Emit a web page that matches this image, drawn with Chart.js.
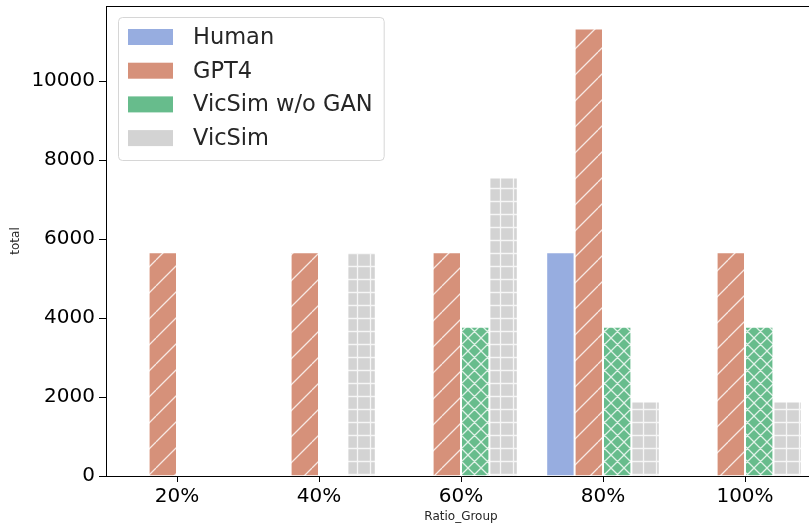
<!DOCTYPE html>
<html>
<head>
<meta charset="utf-8">
<script src="https://cdn.jsdelivr.net/npm/chart.js@4"></script>
<style>
  html, body { margin: 0; padding: 0; background: #fff; overflow: hidden; }
</style>
</head>
<body>
<canvas id="chart" width="816" height="529"></canvas>
<script>
const categories = ['20%', '40%', '60%', '80%', '100%'];
const seriesNames = ['Human', 'GPT4', 'VicSim w/o GAN', 'VicSim'];
const humanValues = [null, null, null, 5670, null];
const gpt4Values = [5670, 5670, 5670, 11340, 5670];
const noGanValues = [null, null, 3780, 3780, 3780];
const vicsimValues = [null, 5670, 7560, 1890, 1890];
const yTicks = [0, 2000, 4000, 6000, 8000, 10000];
const yMax = 11907;

const baseColors = ['#97ade0', '#d6917a', '#67bc8c', '#d3d3d3'];
const hatchKinds = [null, '/', 'x', '+'];
const FONT = "'DejaVu Sans', sans-serif";

function makeHatch(color, kind) {
    if (!kind) return color;
    const size = kind === '/' ? 26 : 13;
    const c = document.createElement('canvas');
    c.width = size; c.height = size;
    const g = c.getContext('2d');
    g.fillStyle = color;
    g.fillRect(0, 0, size, size);
    g.strokeStyle = 'rgba(255,255,255,0.8)';
    g.lineWidth = 1.3;
    g.beginPath();
    if (kind === '/' || kind === 'x') {
        for (let o = -size; o <= size; o += size) {
            g.moveTo(o, size); g.lineTo(o + size, 0);
        }
    }
    if (kind === 'x') {
        for (let o = -size; o <= size; o += size) {
            g.moveTo(o, 0); g.lineTo(o + size, size);
        }
    }
    if (kind === '+') {
        g.moveTo(0, size / 2); g.lineTo(size, size / 2);
        g.moveTo(size / 2, 0); g.lineTo(size / 2, size);
    }
    g.stroke();
    return g.createPattern(c, 'repeat');
}

const ctx = document.getElementById('chart').getContext('2d');
const allValues = [humanValues, gpt4Values, noGanValues, vicsimValues];

const datasets = seriesNames.map((name, i) => ({
    label: name,
    data: allValues[i],
    backgroundColor: makeHatch(baseColors[i], hatchKinds[i]),
    borderColor: 'rgba(255,255,255,0.55)',
    borderWidth: 1,
    categoryPercentage: 0.8,
    barPercentage: 1.0
}));

// legend inside the plot + top spine, drawn by hand like matplotlib
const framePlugin = {
    id: 'framePlugin',
    afterDraw(chart) {
        const c = chart.ctx;
        const area = chart.chartArea;
        c.save();
        c.strokeStyle = '#000';
        c.lineWidth = 1;
        c.beginPath();
        c.moveTo(area.left, area.top + 0.5);
        c.lineTo(area.right, area.top + 0.5);
        c.stroke();

        c.font = '22.5px ' + FONT;
        const names = chart.data.datasets.map(d => d.label);
        const textW = Math.max(...names.map(n => c.measureText(n).width));
        const bx = 118.5, by = 17.5;
        const bw = 75 + textW + 11, bh = 143;
        c.fillStyle = 'rgba(255,255,255,0.8)';
        c.strokeStyle = '#d6d6d6';
        c.beginPath();
        c.roundRect(bx, by, bw, bh, 4);
        c.fill();
        c.stroke();
        names.forEach((n, i) => {
            const cy = 37 + i * 33.7;
            c.fillStyle = baseColors[i];
            c.fillRect(128, cy - 8, 45, 16);
            c.fillStyle = '#262626';
            c.textBaseline = 'middle';
            c.textAlign = 'left';
            c.fillText(n, 193, cy + 1);
        });
        c.restore();
    }
};

new Chart(ctx, {
    type: 'bar',
    data: { labels: categories, datasets },
    options: {
        responsive: false,
        animation: false,
        layout: { padding: { top: 6, right: 0, left: 0, bottom: 0 } },
        plugins: { legend: { display: false }, tooltip: { enabled: false } },
        scales: {
            x: {
                offset: true,
                grid: { display: true, drawOnChartArea: false, drawTicks: true, tickLength: 6, offset: false, color: '#000' },
                border: { display: true, color: '#000', width: 1 },
                ticks: { color: '#000', font: { family: FONT, size: 20 }, padding: 3, maxRotation: 0 },
                title: { display: true, text: 'Ratio_Group', color: '#262626', font: { family: FONT, size: 12 }, padding: { top: 0, bottom: 5 } },
                afterFit(scale) { scale.height = 53; scale.paddingRight = 0; scale.paddingLeft = 0; }
            },
            y: {
                min: 0,
                max: yMax,
                grid: { display: true, drawOnChartArea: false, drawTicks: true, tickLength: 7, color: '#000' },
                border: { display: true, color: '#000', width: 1 },
                ticks: { color: '#000', font: { family: FONT, size: 20 }, padding: 4, stepSize: 2000, callback: v => String(v) },
                afterBuildTicks(scale) { scale.ticks = yTicks.map(v => ({ value: v })); },
                title: { display: true, text: 'total', color: '#262626', font: { family: FONT, size: 12 }, padding: 9 },
                afterFit(scale) { scale.width = 106; scale.paddingTop = 0; scale.paddingBottom = 0; }
            }
        }
    },
    plugins: [framePlugin]
});
</script>
</body>
</html>
